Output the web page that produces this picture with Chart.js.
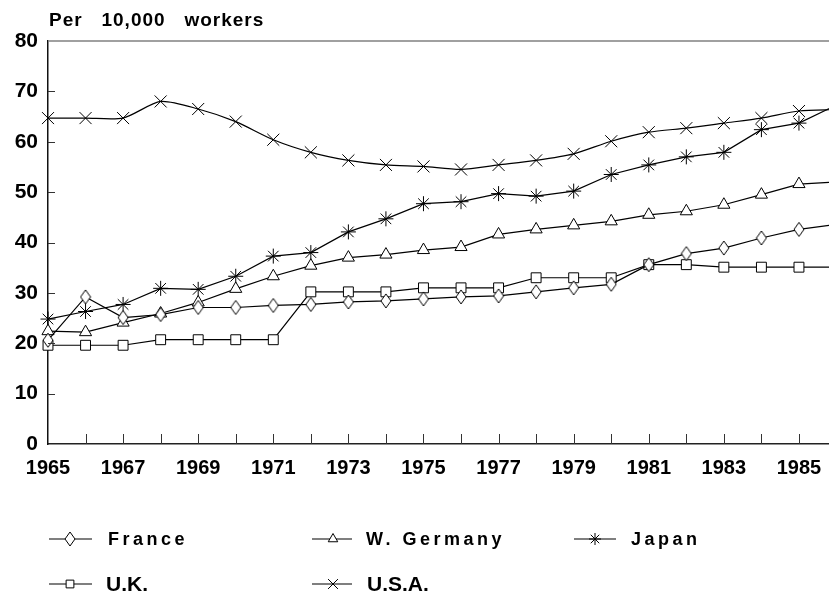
<!DOCTYPE html>
<html>
<head>
<meta charset="utf-8">
<title>Per 10,000 workers</title>
<script src="https://cdn.jsdelivr.net/npm/chart.js@4.4.1/dist/chart.umd.min.js"></script>
<style>
  html, body { margin: 0; padding: 0; background: #fff; }
  #wrap { width: 829px; height: 593px; }
</style>
</head>
<body>
<div id="wrap"><canvas id="chart" width="829" height="593"></canvas></div>
<script>
// values, per 10,000 workers
var years    = [1965, 1966, 1967, 1968, 1969, 1970, 1971, 1972, 1973, 1974, 1975,
                1976, 1977, 1978, 1979, 1980, 1981, 1982, 1983, 1984, 1985, 1986];
var france   = [20.6, 29.2, 25.1, 25.7, 27.1, 27.1, 27.5, 27.7, 28.2, 28.4, 28.8,
                29.2, 29.4, 30.2, 31.0, 31.7, 35.6, 37.8, 38.9, 40.9, 42.6, 43.6];
var wGermany = [22.4, 22.2, 24.1, 25.9, 28.1, 30.8, 33.3, 35.4, 37.0, 37.6, 38.5,
                39.1, 41.6, 42.6, 43.4, 44.2, 45.5, 46.2, 47.5, 49.5, 51.6, 52.0];
var japan    = [24.8, 26.3, 27.7, 30.9, 30.7, 33.3, 37.3, 38.0, 42.1, 44.7, 47.7,
                48.1, 49.7, 49.2, 50.2, 53.5, 55.4, 57.0, 57.9, 62.4, 63.7, 67.3];
var uk       = [19.6, 19.6, 19.6, 20.7, 20.7, 20.7, 20.7, 30.2, 30.2, 30.2, 31.0,
                31.0, 31.0, 33.0, 33.0, 33.0, 35.6, 35.6, 35.1, 35.1, 35.1, 35.1];
var usa      = [64.7, 64.7, 64.7, 68.0, 66.5, 64.0, 60.4, 57.9, 56.3, 55.4, 55.1,
                54.5, 55.4, 56.3, 57.6, 60.1, 61.9, 62.7, 63.7, 64.7, 66.1, 66.4];
var countries = ['France', 'W. Germany', 'Japan', 'U.K.', 'U.S.A.'];
var yTicks = [0, 10, 20, 30, 40, 50, 60, 70, 80];

var FONT = "'Liberation Sans', Arial, Helvetica, sans-serif";

// tall open diamond like the printed one
function makeDiamond(w, h) {
  var c = document.createElement('canvas');
  c.width = w + 2; c.height = h + 2;
  var g = c.getContext('2d');
  g.fillStyle = '#fff';
  g.strokeStyle = '#000';
  g.lineWidth = 1;
  g.beginPath();
  g.moveTo(c.width / 2, 1);
  g.lineTo(c.width - 1, c.height / 2);
  g.lineTo(c.width / 2, c.height - 1);
  g.lineTo(1, c.height / 2);
  g.closePath();
  g.fill();
  g.stroke();
  return c;
}

var styles = [
  {style: makeDiamond(10, 14), radius: 7},
  {style: 'triangle', radius: 7},
  {style: 'star', radius: 7.5},
  {style: 'rect', radius: 7},
  {style: 'crossRot', radius: 8.5}
];
var seriesData = [france, wGermany, japan, uk, usa];

var datasets = countries.map(function(name, i) {
  return {
    label: name,
    data: years.map(function(yr, j) { return {x: yr, y: seriesData[i][j]}; }),
    borderColor: '#000',
    borderWidth: 1.2,
    backgroundColor: '#fff',
    pointStyle: styles[i].style,
    pointRadius: styles[i].radius,
    pointBorderColor: '#000',
    pointBorderWidth: 1,
    pointBackgroundColor: i === 2 ? '#000' : '#fff',
    tension: name === 'U.S.A.' ? 0.25 : 0,
    clip: false
  };
});

// where each legend entry sits under the chart
var legendSlots = [
  {x1: 49, x2: 92, mx: 70, tx: 108, y: 539},
  {x1: 312, x2: 352, mx: 333, tx: 366, y: 539},
  {x1: 574, x2: 616, mx: 595, tx: 631, y: 539},
  {x1: 49, x2: 92, mx: 70, tx: 106, y: 584},
  {x1: 312, x2: 352, mx: 333, tx: 367, y: 584}
];

var decor = {
  id: 'decor',
  afterDraw: function(chart) {
    var ctx = chart.ctx, a = chart.chartArea;
    var xs = chart.scales.x, ys = chart.scales.y;
    ctx.save();

    // grey frame line along the top
    ctx.strokeStyle = '#808080';
    ctx.lineWidth = 1.5;
    ctx.beginPath();
    ctx.moveTo(a.left, a.top);
    ctx.lineTo(a.right, a.top);
    ctx.stroke();

    // short ticks pointing into the plot
    ctx.strokeStyle = '#333';
    ctx.lineWidth = 1;
    ctx.beginPath();
    years.forEach(function(yr) {
      if (yr > 1965 && yr <= 1985) {
        var px = Math.round(xs.getPixelForValue(yr)) + 0.5;
        ctx.moveTo(px, a.bottom);
        ctx.lineTo(px, a.bottom - 10);
      }
    });
    yTicks.forEach(function(v) {
      if (v > 0 && v < 80) {
        var py = Math.round(ys.getPixelForValue(v)) + 0.5;
        ctx.moveTo(a.left, py);
        ctx.lineTo(a.left + 7, py);
      }
    });
    ctx.stroke();

    // title
    ctx.fillStyle = '#000';
    ctx.textBaseline = 'middle';
    ctx.textAlign = 'left';
    ctx.font = 'bold 19px ' + FONT;
    ctx.letterSpacing = '1px';
    ctx.fillText('Per   10,000   workers', 49, 21);

    // legend
    chart.data.datasets.forEach(function(ds, i) {
      var s = legendSlots[i];
      ctx.strokeStyle = '#000';
      ctx.lineWidth = 1.2;
      ctx.beginPath();
      ctx.moveTo(s.x1, s.y);
      ctx.lineTo(s.x2, s.y);
      ctx.stroke();
      ctx.fillStyle = ds.pointBackgroundColor;
      ctx.lineWidth = 1;
      Chart.helpers.drawPoint(ctx, {
        pointStyle: ds.pointStyle,
        radius: ds.pointRadius - 1.5,
        rotation: 0,
        borderWidth: 1
      }, s.mx, s.y);
      ctx.fillStyle = '#000';
      if (i < 3) {
        ctx.font = 'bold 18px ' + FONT;
        ctx.letterSpacing = '3.5px';
      } else {
        ctx.font = 'bold 21px ' + FONT;
        ctx.letterSpacing = '0px';
      }
      ctx.fillText(ds.label, s.tx, s.y + 1);
    });
    ctx.restore();
  }
};

new Chart(document.getElementById('chart'), {
  type: 'line',
  data: {datasets: datasets},
  options: {
    responsive: false,
    animation: false,
    devicePixelRatio: 1,
    layout: {autoPadding: false, padding: {top: 41, right: 0, bottom: 0, left: 0}},
    plugins: {
      legend: {display: false},
      tooltip: {enabled: false},
      title: {display: false}
    },
    scales: {
      x: {
        type: 'linear',
        min: 1965,
        max: 1985.8,
        afterBuildTicks: function(s) {
          s.ticks = years.filter(function(y) { return y <= 1985; })
                         .map(function(y) { return {value: y}; });
        },
        afterFit: function(s) {
          s.height = 149;
          s.paddingLeft = 0;
          s.paddingRight = 0;
        },
        grid: {display: true, drawOnChartArea: false, drawTicks: false},
        border: {display: true, color: '#222', width: 1.5},
        ticks: {
          autoSkip: false,
          maxRotation: 0,
          padding: 12,
          color: '#000',
          font: {family: FONT, size: 20, weight: 'bold'},
          callback: function(v) { return v % 2 === 1 ? String(v) : ''; }
        }
      },
      y: {
        min: 0,
        max: 80,
        afterBuildTicks: function(s) {
          s.ticks = yTicks.map(function(v) { return {value: v}; });
        },
        afterFit: function(s) { s.width = 48; },
        grid: {display: true, drawOnChartArea: false, drawTicks: false},
        border: {display: true, color: '#111', width: 1.5},
        ticks: {
          padding: 10,
          color: '#000',
          font: {family: FONT, size: 21, weight: 'bold'}
        }
      }
    }
  },
  plugins: [decor]
});
</script>
</body>
</html>
